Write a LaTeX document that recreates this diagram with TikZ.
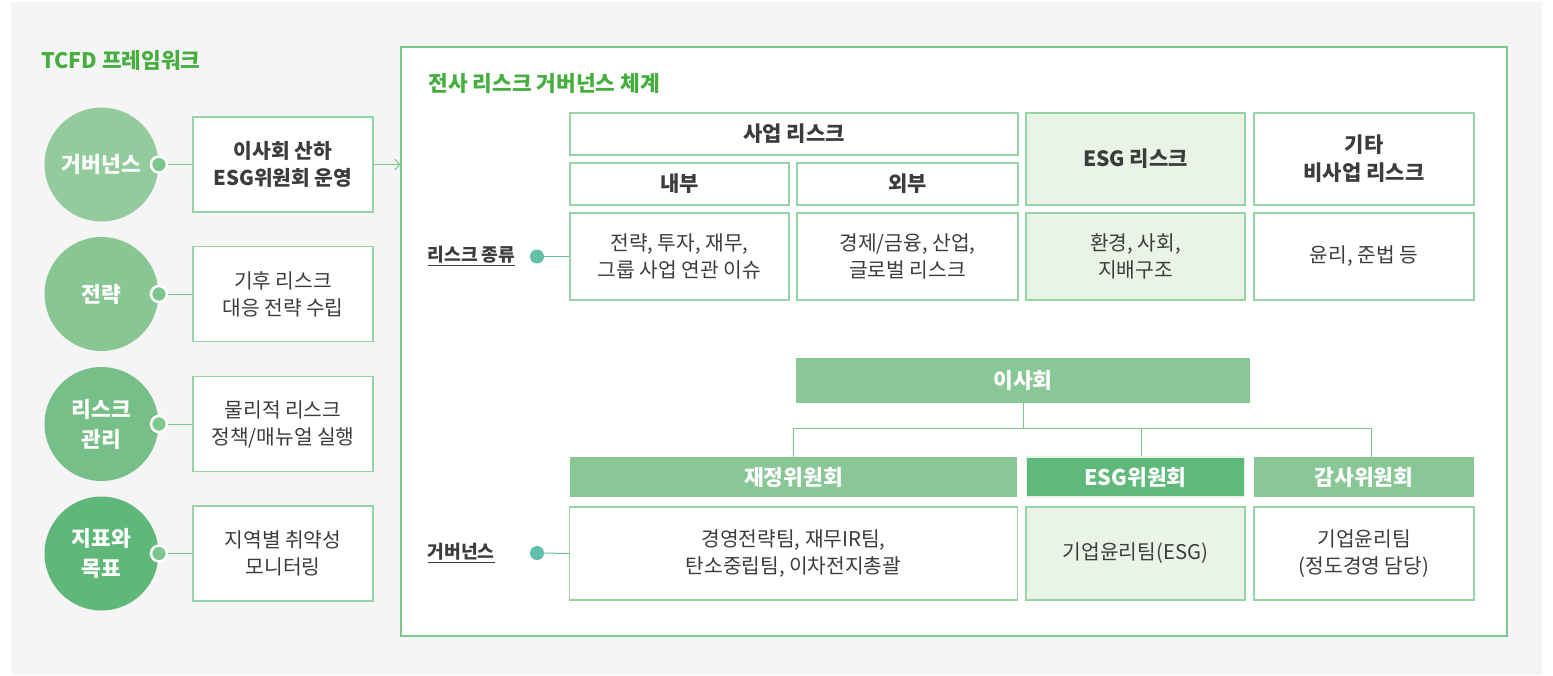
\documentclass[tikz,border=0pt]{standalone}
\usepackage{fontspec}
\setmainfont{Noto Sans CJK KR}
\usetikzlibrary{arrows.meta}
\definecolor{titlegreen}{HTML}{46AE3E}
\definecolor{bggray}{HTML}{F5F5F5}
\definecolor{linegreen}{HTML}{7DC78F}
\definecolor{boxgreen}{HTML}{96D3A6}
\definecolor{bargreen}{HTML}{89C797}
\definecolor{darkgreen}{HTML}{5FB97B}
\definecolor{palegreen}{HTML}{E9F4E6}
\definecolor{tealdot}{HTML}{62C0AA}
\definecolor{txtgray}{HTML}{3C3C3C}
\definecolor{circA}{HTML}{93CB9D}
\definecolor{circB}{HTML}{88C794}
\definecolor{circC}{HTML}{77BF89}
\definecolor{circD}{HTML}{5FB879}

\begin{document}
\begin{tikzpicture}[x=1pt, y=-1pt,
    txt/.style={font=\fontsize{20.3}{27}\selectfont, text=txtgray, align=center},
    head/.style={font=\fontsize{21}{28}\selectfont\bfseries},
    infobox/.style={txt, draw=boxgreen, line width=1.2pt, fill=white, minimum width=180pt, minimum height=95pt, inner sep=0pt},
    riskbox/.style={txt, draw=boxgreen, line width=1.2pt, fill=white, inner sep=0pt},
    esgbox/.style={riskbox, fill=palegreen},
    bar/.style={fill=bargreen, text=white, font=\fontsize{21.5}{26}\selectfont\bfseries, minimum height=40pt, inner sep=0pt},
    circ/.style={circle, minimum size=114pt, inner sep=0pt, text=white, align=center, font=\fontsize{21.5}{30}\selectfont\bfseries},
    ringdot/.style={circle, draw=white, line width=2.5pt, fill=linegreen, minimum size=16pt, inner sep=0pt},
    tdot/.style={circle, fill=tealdot, minimum size=14pt, inner sep=0pt},
    conn/.style={linegreen, line width=1pt},
    ttl/.style={font=\fontsize{21.4}{26}\selectfont\bfseries, text=titlegreen, anchor=west},
    lbl/.style={font=\fontsize{18.2}{22}\selectfont\bfseries, text=txtgray, anchor=west}]
    \useasboundingbox (0,0) rectangle (1553,675);
    \fill[bggray] (11,2) rectangle (1542,675);
    % TCFD framework
    \node[ttl] (tcfd) at (38,60) {TCFD 프레임워크};
    \foreach \y/\c/\n/\t/\b in {164.5/circA/gov/거버넌스/{\bfseries 이사회 산하\\\bfseries ESG위원회 운영},
                              294/circB/str/전략/{기후 리스크\\대응 전략 수립},
                              424/circC/risk/{리스크\\관리}/{물리적 리스크\\정책/매뉴얼 실행},
                              553.5/circD/met/{지표와\\목표}/{지역별 취약성\\모니터링}} {
        \node[circ, fill=\c] (c\n) at (101.5,\y) {\t};
        \node[ringdot] (d\n) at (159,\y) {};
        \node[infobox] (b\n) at (283,\y) {\b};
        \draw[conn] (d\n.east) -- (b\n.west);
    }
    % enterprise risk governance
    \node[draw=linegreen, line width=1.2pt, fill=white, minimum width=1106pt, minimum height=589pt] (frame) at (954,341.5) {};
    \draw[conn, -{Straight Barb[length=5pt, width=11pt]}] (bgov.east) -- (bgov.east -| frame.west);
    \node[ttl] (ertitle) at (425,83) {전사 리스크 거버넌스 체계};
    % risk types
    \node[riskbox, head, minimum width=448pt, minimum height=42pt] (rbiz) at (794,134) {사업 리스크};
    \node[riskbox, head, minimum width=219pt, minimum height=42pt] (rin) at (679.5,184) {내부};
    \node[riskbox, head, minimum width=221pt, minimum height=42pt] (rout) at (907.5,184) {외부};
    \node[esgbox, head, minimum width=219pt, minimum height=92pt] (resg) at (1135.5,159) {ESG 리스크};
    \node[riskbox, head, minimum width=220pt, minimum height=92pt] (retc) at (1364,159) {기타\\비사업 리스크};
    \node[riskbox, minimum width=219pt, minimum height=87pt] (ra) at (679.5,256.5) {전략, 투자, 재무,\\그룹 사업 연관 이슈};
    \node[riskbox, minimum width=221pt, minimum height=87pt] (rb) at (907.5,256.5) {경제/금융, 산업,\\글로벌 리스크};
    \node[esgbox, minimum width=219pt, minimum height=87pt] (rc) at (1135.5,256.5) {환경, 사회,\\지배구조};
    \node[riskbox, minimum width=220pt, minimum height=87pt] (rd) at (1364,256.5) {윤리, 준법 등};
    \node[lbl] (lrisk) at (424,256) {\underline{리스크 종류}};
    \node[tdot] (trisk) at (537,256.5) {};
    \draw[tealdot, line width=1pt] (trisk.east) -- (ra.west);
    % governance
    \node[bar, minimum width=454pt, minimum height=45pt] (board) at (1023,380.5) {이사회};
    \node[bar, minimum width=447pt] (cfin) at (793.5,477) {재정위원회};
    \node[bar, fill=darkgreen, draw=palegreen, line width=1.5pt, minimum width=218pt] (cesg) at (1135.5,477) {ESG위원회};
    \node[bar, minimum width=220pt] (caud) at (1364,477) {감사위원회};
    \draw[conn] (board.south) -- ++(0,26);
    \draw[conn] (cfin.north) -- ++(0,-28) -| ([xshift=7pt]caud.north);
    \draw[conn] ([xshift=5.5pt]cesg.north) -- ++(0,-28);
    \node[riskbox, minimum width=448pt, minimum height=93pt] (tfin) at (793.5,553.5) {경영전략팀, 재무IR팀,\\탄소중립팀, 이차전지총괄};
    \node[esgbox, minimum width=219pt, minimum height=93pt] (tesg) at (1135.5,553.5) {기업윤리팀(ESG)};
    \node[riskbox, minimum width=220pt, minimum height=93pt] (taud) at (1364,553.5) {기업윤리팀\\(정도경영 담당)};
    \node[lbl] (lgov) at (424,553) {\underline{거버넌스}};
    \node[tdot] (tgov) at (537,553) {};
    \draw[tealdot, line width=1pt] (tgov.east) -- (tfin.west);
\end{tikzpicture}
\end{document}
